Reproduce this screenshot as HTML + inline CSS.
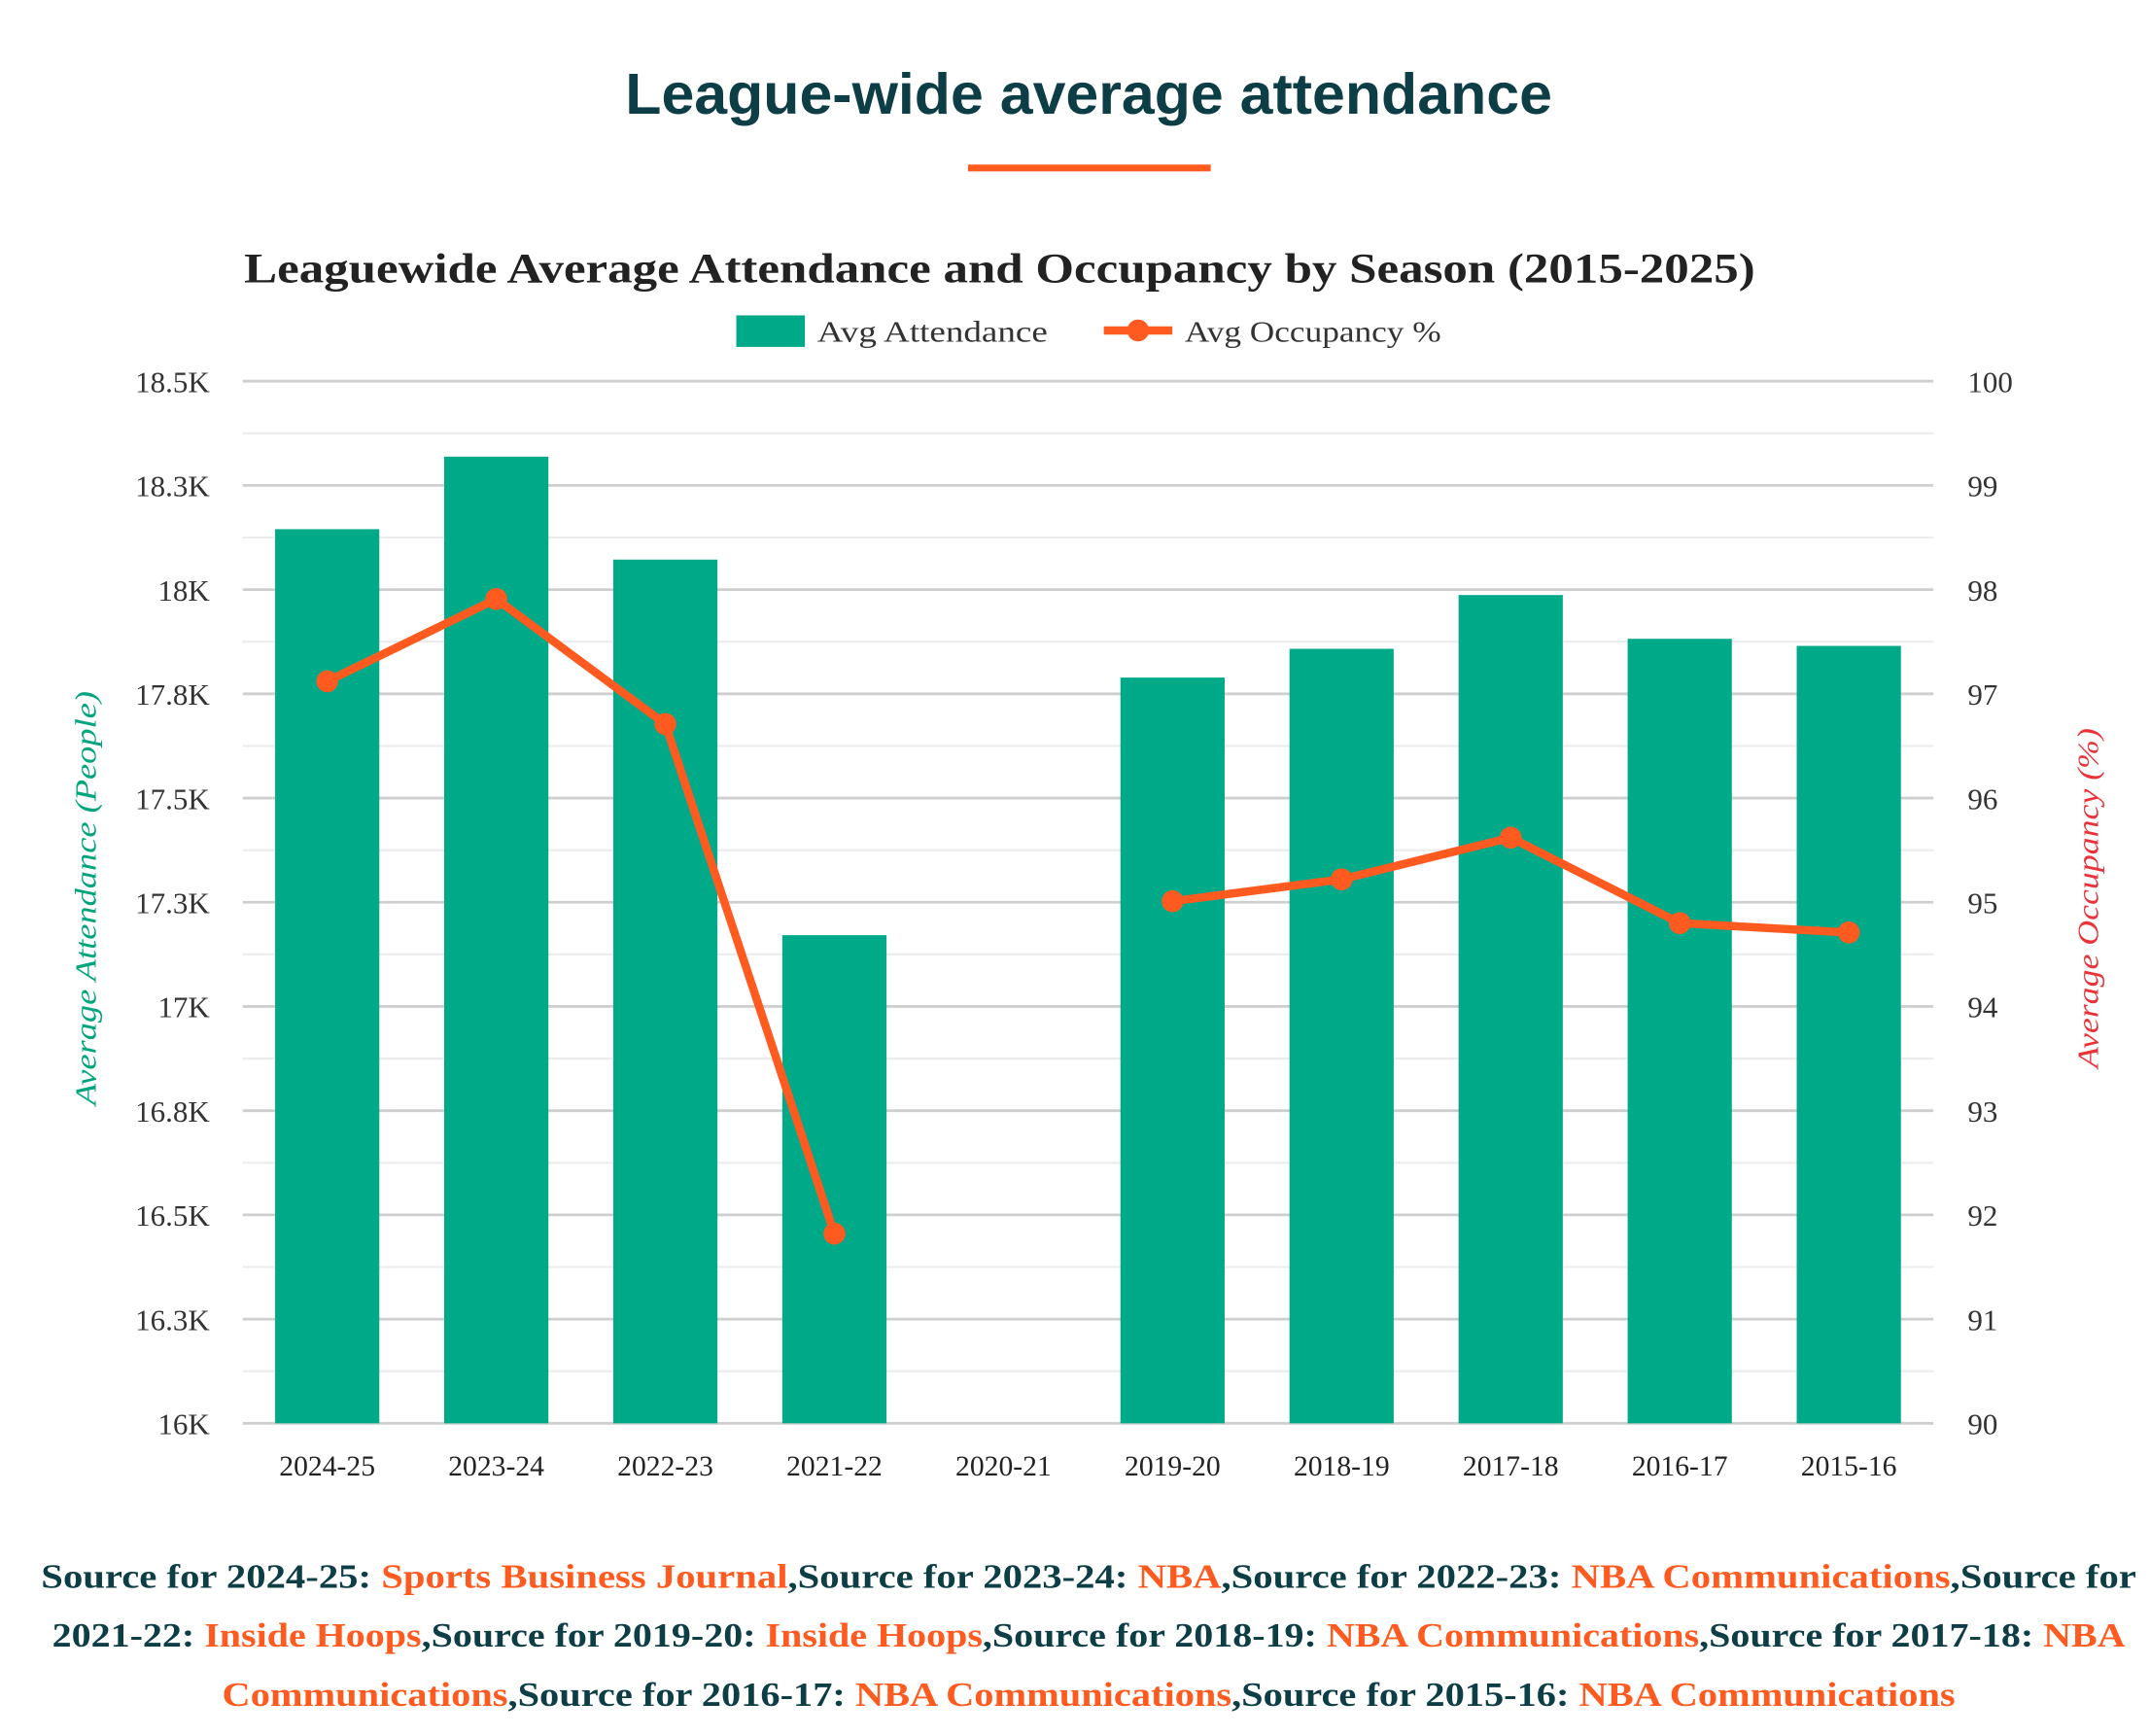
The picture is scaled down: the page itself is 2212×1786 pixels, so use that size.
<!DOCTYPE html>
<html><head><meta charset="utf-8"><style>
html,body{margin:0;padding:0;background:#fff;width:2212px;height:1786px;overflow:hidden}
#wrap{width:1568px;height:1266px;transform:scale(1.41071);transform-origin:0 0;position:absolute;left:0;top:0}
svg{display:block}
</style></head><body>
<div id="wrap">
<svg id="chart" width="1568" height="1266" viewBox="0 0 1568 1266">
  <text x="794" y="83" text-anchor="middle" font-family="Liberation Sans, sans-serif" font-weight="bold" font-size="42" fill="#0d3d45" textLength="676" lengthAdjust="spacingAndGlyphs">League-wide average attendance</text>
  <rect x="706" y="120" width="177" height="5" fill="#ff5a1f"/>
  <text x="729" y="206" text-anchor="middle" font-family="Liberation Serif, serif" font-weight="bold" font-size="31" fill="#222" textLength="1102" lengthAdjust="spacingAndGlyphs">Leaguewide Average Attendance and Occupancy by Season (2015-2025)</text>
  <g>
    <g>
      <rect x="537" y="230" width="50" height="23" fill="#00aa88"/>
      <text x="596" y="249" font-family="Liberation Serif, serif" font-size="22" fill="#333" textLength="168" lengthAdjust="spacingAndGlyphs">Avg Attendance</text>
    </g>
    <g>
      <line x1="805" y1="241" x2="855" y2="241" stroke="#ff5a1f" stroke-width="6"/>
      <circle cx="830" cy="241" r="8" fill="#ff5a1f"/>
      <text x="864" y="249" font-family="Liberation Serif, serif" font-size="22" fill="#333" textLength="187" lengthAdjust="spacingAndGlyphs">Avg Occupancy %</text>
    </g>
  </g>
  <g id="grid"></g>
  <g id="bars"></g>
  <g id="line"></g>
  <g id="axes"></g>
  <text transform="translate(70,655) rotate(-90)" text-anchor="middle" font-family="Liberation Serif, serif" font-style="italic" font-size="22" fill="#00a57e" textLength="302" lengthAdjust="spacingAndGlyphs">Average Attendance (People)</text>
  <text transform="translate(1530,655) rotate(-90)" text-anchor="middle" font-family="Liberation Serif, serif" font-style="italic" font-size="22" fill="#e8333a" textLength="248" lengthAdjust="spacingAndGlyphs">Average Occupancy (%)</text>
  <g font-family="Liberation Serif, serif" font-weight="bold" font-size="25">
    <text x="794" y="1158" text-anchor="middle" textLength="1528" lengthAdjust="spacingAndGlyphs" fill="#0d3d45">Source for 2024-25: <tspan fill="#ff5a1f">Sports Business Journal</tspan>,Source for 2023-24: <tspan fill="#ff5a1f">NBA</tspan>,Source for 2022-23: <tspan fill="#ff5a1f">NBA Communications</tspan>,Source for</text>
    <text x="794" y="1201" text-anchor="middle" textLength="1512" lengthAdjust="spacingAndGlyphs" fill="#0d3d45">2021-22: <tspan fill="#ff5a1f">Inside Hoops</tspan>,Source for 2019-20: <tspan fill="#ff5a1f">Inside Hoops</tspan>,Source for 2018-19: <tspan fill="#ff5a1f">NBA Communications</tspan>,Source for 2017-18: <tspan fill="#ff5a1f">NBA</tspan></text>
    <text x="794" y="1244" text-anchor="middle" textLength="1264" lengthAdjust="spacingAndGlyphs" fill="#0d3d45"><tspan fill="#ff5a1f">Communications</tspan>,Source for 2016-17: <tspan fill="#ff5a1f">NBA Communications</tspan>,Source for 2015-16: <tspan fill="#ff5a1f">NBA Communications</tspan></text>
  </g>
</svg>
</div>
<script>
const categories = ["2024-25","2023-24","2022-23","2021-22","2020-21","2019-20","2018-19","2017-18","2016-17","2015-16"];
const attendance = [18145, 18319, 18072, 17171, null, 17789, 17858, 17987, 17882, 17865];
const occupancy = [97.12, 97.91, 96.71, 91.82, null, 95.01, 95.22, 95.62, 94.80, 94.71];
const leftTicks = [16000,16250,16500,16750,17000,17250,17500,17750,18000,18250,18500];
const leftTickLabels = ["16K","16.3K","16.5K","16.8K","17K","17.3K","17.5K","17.8K","18K","18.3K","18.5K"];
const rightTicks = [90,91,92,93,94,95,96,97,98,99,100];

const NS = "http://www.w3.org/2000/svg";
const L = 177, R = 1410, T = 278, B = 1038;
const band = (R - L) / categories.length;
const xC = i => L + band * (i + 0.5);
const yL = v => B - (v - 16000) / 2500 * (B - T);
const yR = v => B - (v - 90) / 10 * (B - T);
function mk(tag, attrs, parent) {
  const e = document.createElementNS(NS, tag);
  for (const k in attrs) e.setAttribute(k, attrs[k]);
  parent.appendChild(e);
  return e;
}
const grid = document.getElementById('grid');
const axes = document.getElementById('axes');
leftTicks.forEach((t, i) => {
  const y = yL(t);
  const g = mk('line', {x1: L, x2: R, y1: y, y2: y, stroke: '#cfcfcf', 'stroke-width': 2}, grid);
  
  
  if (i < leftTicks.length - 1) {
    const ym = (y + yL(leftTicks[i + 1])) / 2;
    const m = mk('line', {x1: L, x2: R, y1: ym, y2: ym, stroke: '#ececec', 'stroke-width': 1.5}, grid);
    
    
  }
  const tx = mk('text', {x: 153, y: y + 8, 'text-anchor': 'end', 'font-family': 'Liberation Serif, serif', 'font-size': 22, fill: '#333'}, axes);
  tx.textContent = leftTickLabels[i];
  
  
});
rightTicks.forEach(t => {
  const tx = mk('text', {x: 1435, y: yR(t) + 8, 'font-family': 'Liberation Serif, serif', 'font-size': 22, fill: '#333'}, axes);
  tx.textContent = t;
  
  
});
const bars = document.getElementById('bars');
categories.forEach((c, i) => {
  const tx = mk('text', {x: xC(i), y: 1076, 'text-anchor': 'middle', 'font-family': 'Liberation Serif, serif', 'font-size': 21, fill: '#222'}, axes);
  tx.textContent = c;
  
  
  const v = attendance[i];
  if (v == null) return;
  const bw = 76;
  const r = mk('rect', {x: xC(i) - bw / 2, y: yL(v), width: bw, height: B - yL(v), fill: '#00aa88'}, bars);
  
  
});
const line = document.getElementById('line');
let seg = [];
const segs = [];
occupancy.forEach((v, i) => {
  if (v == null) { if (seg.length) segs.push(seg); seg = []; return; }
  seg.push([xC(i), yR(v)]);
});
if (seg.length) segs.push(seg);
segs.forEach(s => {
  const p = mk('polyline', {points: s.map(p => p.join(',')).join(' '), fill: 'none', stroke: '#ff5a1f', 'stroke-width': 6, 'stroke-linejoin': 'round'}, line);
  
  
});
occupancy.forEach((v, i) => {
  if (v == null) return;
  const c = mk('circle', {cx: xC(i), cy: yR(v), r: 8, fill: '#ff5a1f'}, line);
  
  
});
</script>
</body></html>
